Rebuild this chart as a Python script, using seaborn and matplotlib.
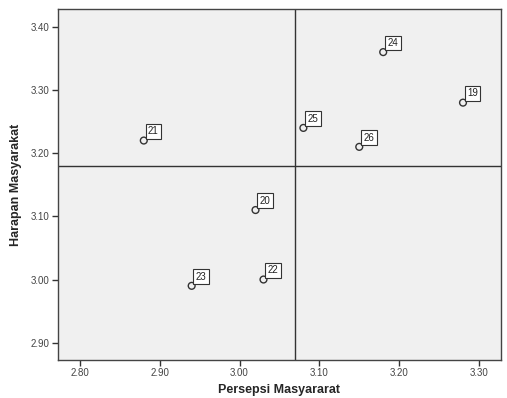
import pandas as pd
import numpy as np
import matplotlib
matplotlib.use("Agg")
import matplotlib.pyplot as plt
import seaborn as sns

# case numbers and their mean scores
case_ids = ["19", "20", "21", "22", "23", "24", "25", "26"]
persepsi = [3.28, 3.02, 2.88, 3.03, 2.94, 3.18, 3.08, 3.15]
harapan = [3.28, 3.11, 3.22, 3.00, 2.99, 3.36, 3.24, 3.21]

# quadrant reference lines (means)
x_mean = 3.07
y_mean = 3.18

x_ticks = [2.80, 2.90, 3.00, 3.10, 3.20, 3.30]
y_ticks = [2.90, 3.00, 3.10, 3.20, 3.30, 3.40]

df = pd.DataFrame({"case": case_ids, "Persepsi": persepsi, "Harapan": harapan})

sns.set_style("white")
plt.rcParams['font.family'] = ['Liberation Sans', 'DejaVu Sans']

fig = plt.figure(figsize=(5.07, 3.98), dpi=100)
ax = fig.add_axes([0.1144, 0.0955, 0.8736, 0.8815])
ax.set_facecolor("#f0f0f0")

ax.axvline(x_mean, color="#333333", lw=1, zorder=1)
ax.axhline(y_mean, color="#333333", lw=1, zorder=1)

sns.scatterplot(data=df, x="Persepsi", y="Harapan", ax=ax, marker="o", s=24,
                facecolor="none", edgecolor="#333333", linewidth=1, zorder=3)

for _, row in df.iterrows():
    ax.annotate(row["case"], (row["Persepsi"], row["Harapan"]),
                xytext=(3, 3), textcoords="offset points", fontsize=7,
                color="#222222", ha="left", va="bottom",
                bbox=dict(boxstyle="square,pad=0.25", fc="white", ec="#333333", lw=0.8))

ax.set_xlim(2.7725, 3.3275)
ax.set_ylim(2.8726, 3.428)
ax.set_xticks(x_ticks)
ax.set_yticks(y_ticks)
ax.set_xticklabels([f"{v:.2f}" for v in x_ticks], fontsize=7, color="#444444")
ax.set_yticklabels([f"{v:.2f}" for v in y_ticks], fontsize=7, color="#444444")
ax.tick_params(axis="both", direction="out", length=4, width=1, color="#333333",
               bottom=True, left=True, pad=2)

for sp in ax.spines.values():
    sp.set_color("#444444")
    sp.set_linewidth(1)

ax.set_xlabel("Persepsi Masyararat", fontsize=9, fontweight="bold", labelpad=4)
ax.set_ylabel("Harapan Masyarakat", fontsize=9, fontweight="bold", labelpad=6)

fig.savefig("out.png", dpi=100)
